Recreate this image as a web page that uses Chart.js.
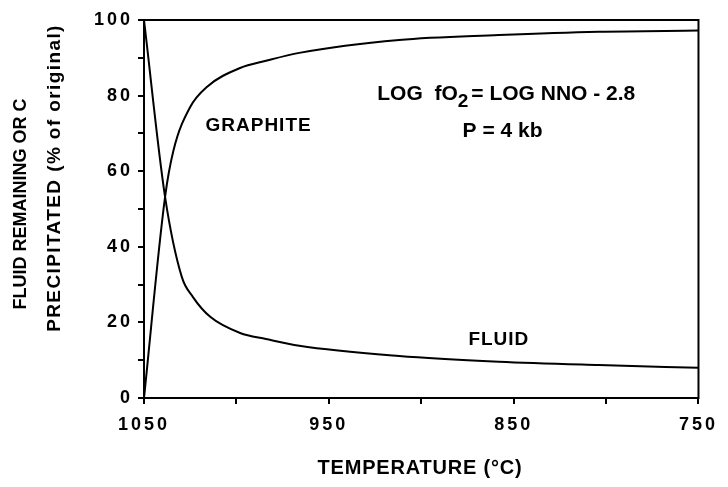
<!DOCTYPE html>
<html>
<head>
<meta charset="utf-8">
<script src="https://cdn.jsdelivr.net/npm/chart.js@4"></script>
<style>
  html, body { margin: 0; padding: 0; background: #fff; }
  #wrap { width: 728px; height: 487px; }
</style>
</head>
<body>
<div id="wrap"><canvas id="chart"></canvas></div>
<script>
// data
const fluidTemps = [1050, 1038.6, 1029.6, 1023.5, 1014, 998, 984, 966, 912, 858, 804, 750];
const fluidValues = [100, 53.2, 32.1, 26.7, 21.4, 17.2, 15.6, 13.8, 11.1, 9.6, 8.7, 8.0];
const graphiteTemps = [1050, 1038.6, 1034, 1025, 1016, 998, 984, 966, 912, 858, 804, 750];
const graphiteValues = [0, 53.2, 65.6, 77, 82.3, 87.3, 89.2, 91.3, 94.7, 96.0, 96.9, 97.2];
const xTickLabels = [1050, 950, 850, 750];
const yTickLabels = [0, 20, 40, 60, 80, 100];

const FONT = "'Liberation Sans', Arial, sans-serif";

function toPoints(xs, ys) {
    return xs.map((x, i) => ({ x: x, y: ys[i] }));
}

// tick text in the original is spaced out a bit
const spacing = {
    id: 'spacing',
    beforeLayout(chart) { chart.ctx.letterSpacing = '3px'; },
    beforeDraw(chart) { chart.ctx.letterSpacing = '3px'; }
};

// frame, axis titles and text labels inside the plot
const extras = {
    id: 'extras',
    afterDraw(chart) {
        const ctx = chart.ctx;
        const a = chart.chartArea;
        const x = chart.scales.x, y = chart.scales.y;
        ctx.save();
        ctx.strokeStyle = '#000';
        ctx.lineWidth = 2;
        ctx.strokeRect(a.left, a.top, a.right - a.left, a.bottom - a.top);

        ctx.fillStyle = '#000';
        ctx.textBaseline = 'middle';
        ctx.textAlign = 'center';

        // axis titles
        ctx.letterSpacing = '0.8px';
        ctx.font = 'bold 20px ' + FONT;
        ctx.fillText('TEMPERATURE (°C)', 420, 468);

        ctx.save();
        ctx.translate(21, 204);
        ctx.rotate(-Math.PI / 2);
        ctx.font = 'bold 18px ' + FONT;
        ctx.letterSpacing = '0px';
        ctx.fillText('FLUID REMAINING OR C', 0, 0);
        ctx.restore();

        ctx.save();
        ctx.translate(55, 178);
        ctx.rotate(-Math.PI / 2);
        ctx.font = 'bold 19px ' + FONT;
        ctx.letterSpacing = '1.4px';
        ctx.fillText('PRECIPITATED (% of original)', 0, 0);
        ctx.restore();

        ctx.letterSpacing = '1px';
        ctx.font = 'bold 19px ' + FONT;
        ctx.fillText('GRAPHITE', x.getPixelForValue(988), y.getPixelForValue(72));
        ctx.fillText('FLUID', x.getPixelForValue(858), y.getPixelForValue(15.3));

        // LOG fO2 = LOG NNO - 2.8
        ctx.letterSpacing = '0px';
        ctx.textAlign = 'left';
        const py = y.getPixelForValue(80.4);
        const p1 = 'LOG  fO', p3 = '= LOG NNO - 2.8';
        ctx.font = 'bold 21px ' + FONT;
        const w1 = ctx.measureText(p1).width;
        const w3 = ctx.measureText(p3).width;
        ctx.font = 'bold 19px ' + FONT;
        const w2 = ctx.measureText('2').width + 3;
        const sx = x.getPixelForValue(854) - (w1 + w2 + w3) / 2;
        ctx.font = 'bold 21px ' + FONT;
        ctx.fillText(p1, sx, py);
        ctx.font = 'bold 19px ' + FONT;
        ctx.fillText('2', sx + w1, py + 8);
        ctx.font = 'bold 21px ' + FONT;
        ctx.fillText(p3, sx + w1 + w2, py);

        ctx.textAlign = 'center';
        ctx.font = 'bold 21px ' + FONT;
        ctx.fillText('P = 4 kb', x.getPixelForValue(856), y.getPixelForValue(70.6));
        ctx.restore();
    }
};

const ctx = document.getElementById('chart').getContext('2d');
const chart = new Chart(ctx, {
    type: 'line',
    data: {
        datasets: [{
            label: 'Fluid',
            data: toPoints(fluidTemps, fluidValues),
            borderColor: '#000',
            borderWidth: 2,
            pointRadius: 0,
            cubicInterpolationMode: 'monotone'
        }, {
            label: 'Graphite',
            data: toPoints(graphiteTemps, graphiteValues),
            borderColor: '#000',
            borderWidth: 2,
            pointRadius: 0,
            cubicInterpolationMode: 'monotone'
        }]
    },
    options: {
        responsive: true,
        maintainAspectRatio: false,
        animation: false,
        layout: { padding: { top: 20, right: 28, left: 6, bottom: 6 } },
        plugins: {
            legend: { display: false },
            tooltip: { enabled: false }
        },
        scales: {
            x: {
                type: 'linear',
                reverse: true,
                min: 750,
                max: 1050,
                afterFit: s => { s.height = 83; },
                border: { color: '#000', width: 2 },
                grid: { drawOnChartArea: false, drawTicks: true, tickLength: 6, color: '#000', lineWidth: 2 },
                ticks: {
                    stepSize: 50,
                    maxRotation: 0,
                    color: '#000',
                    padding: 10,
                    font: { family: FONT, size: 18, weight: 'bold' },
                    callback: v => xTickLabels.includes(v) ? v : ''
                }
            },
            y: {
                min: 0,
                max: 100,
                afterFit: s => { s.width = 138; },
                border: { color: '#000', width: 2 },
                grid: { drawOnChartArea: false, drawTicks: true, tickLength: 6, color: '#000', lineWidth: 2 },
                ticks: {
                    stepSize: 10,
                    color: '#000',
                    padding: 5,
                    font: { family: FONT, size: 18, weight: 'bold' },
                    callback: v => yTickLabels.includes(v) ? v : ''
                }
            }
        }
    },
    plugins: [spacing, extras]
});
</script>
</body>
</html>
